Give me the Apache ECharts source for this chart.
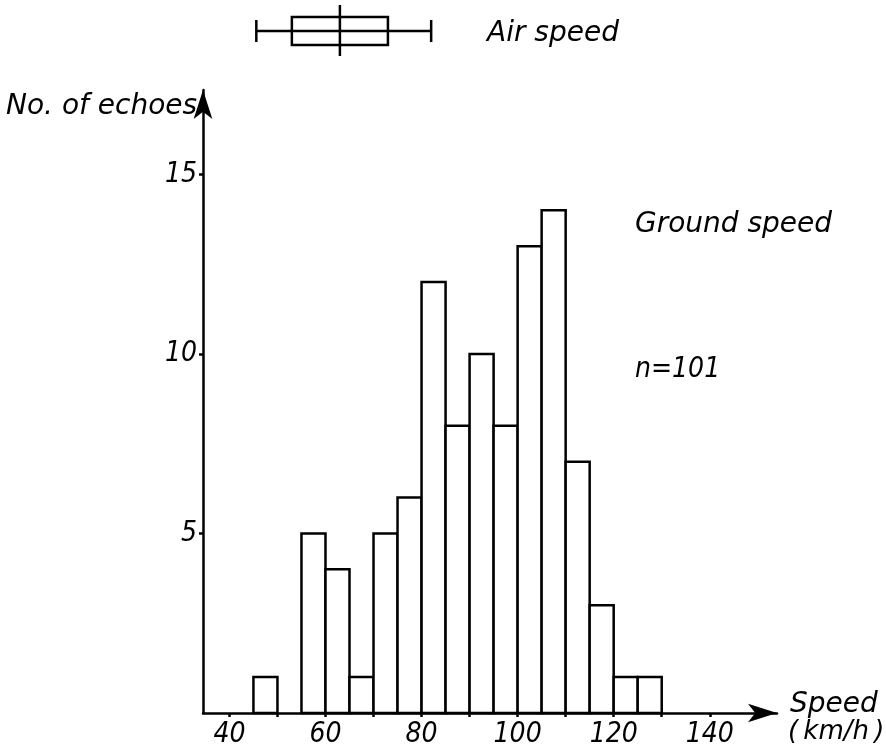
<!DOCTYPE html>
<html><head><meta charset="utf-8">
<script src="https://cdn.jsdelivr.net/npm/echarts@6/dist/echarts.min.js"></script>
<style>html,body{margin:0;padding:0;background:#fff}#c{width:886px;height:754px}</style>
</head><body><div id="c"></div>
<script>
// Histogram bins (km/h) and counts
const binStarts = [45, 50, 55, 60, 65, 70, 75, 80, 85, 90, 95, 100, 105, 110, 115, 120, 125];
const counts    = [1, 0, 5, 4, 1, 5, 6, 12, 8, 10, 8, 13, 14, 7, 3, 1, 1];
const binWidth = 5;
// Air speed box plot: min, q1, median, q3, max
const airSpeedBox = [45.6, 53, 63, 73, 82];
// Tick values
const xTickValues  = [40, 50, 60, 70, 80, 90, 100, 110, 120, 130, 140];
const xLabelValues = [40, 60, 80, 100, 120, 140];
const yLabelValues = [5, 10, 15];

const WORDFONT = "'DejaVu Sans', sans-serif";
const NUMFONT = "'Liberation Sans Narrow', 'DejaVu Sans Condensed', 'Liberation Sans', sans-serif";
const chart = echarts.init(document.getElementById('c'), null, {renderer: 'canvas'});

function txt(text, x, y, font, size) {
  return {type: 'text', x: x, y: y, style: {text: text, fill: '#000', fontSize: size || 28, fontStyle: 'italic',
    fontFamily: font || WORDFONT, verticalAlign: 'middle', align: 'left'}};
}

const LW = 2.5;
const axisLineStyle = {color: '#000', width: LW};
const option = {
  animation: false,
  backgroundColor: '#fff',
  grid: [
    {left: 203, top: 90, width: 574, height: 623},
    {left: 203, top: 5, width: 574, height: 52}
  ],
  xAxis: [
    {type: 'value', gridIndex: 0, min: 34.5, max: 154,
     axisLine: {show: true, onZero: false, lineStyle: axisLineStyle, symbol: ['none', 'arrow'], symbolSize: [14, 29]},
     axisTick: {show: true, customValues: xTickValues, length: 4, lineStyle: axisLineStyle},
     axisLabel: {show: true, customValues: xLabelValues, margin: 8, color: '#000', fontSize: 28, fontStyle: 'italic', fontFamily: NUMFONT},
     splitLine: {show: false}},
    {type: 'value', gridIndex: 1, min: 34.5, max: 154, show: false}
  ],
  yAxis: [
    {type: 'value', gridIndex: 0, min: 0, max: 17.35,
     axisLine: {show: true, onZero: false, lineStyle: axisLineStyle, symbol: ['none', 'arrow'], symbolSize: [14, 29]},
     axisTick: {show: true, customValues: yLabelValues, length: 4, lineStyle: axisLineStyle},
     axisLabel: {show: true, customValues: yLabelValues, margin: 6, color: '#000', fontSize: 28, fontStyle: 'italic', fontFamily: NUMFONT},
     splitLine: {show: false}},
    {type: 'value', gridIndex: 1, min: 0, max: 1, show: false}
  ],
  series: [
    {type: 'custom', xAxisIndex: 0, yAxisIndex: 0,
     data: binStarts.map((s, i) => [s, s + binWidth, counts[i]]),
     renderItem: function (params, api) {
       const x0 = api.value(0), x1 = api.value(1), c = api.value(2);
       if (!c) return null;
       const p0 = api.coord([x0, c]), p1 = api.coord([x1, 0]);
       return {type: 'rect', shape: {x: p0[0], y: p0[1], width: p1[0] - p0[0], height: p1[1] - p0[1]},
               style: {fill: '#fff', stroke: '#000', lineWidth: LW}};
     }},
    {type: 'custom', xAxisIndex: 1, yAxisIndex: 1,
     data: [airSpeedBox],
     renderItem: function (params, api) {
       const cy = api.coord([40, 0.5])[1];
       const px = i => api.coord([api.value(i), 0.5])[0];
       const mn = px(0), q1 = px(1), md = px(2), q3 = px(3), mx = px(4);
       const st = {stroke: '#000', lineWidth: LW, fill: null};
       return {type: 'group', children: [
         {type: 'line', shape: {x1: mn, y1: cy, x2: mx, y2: cy}, style: st},
         {type: 'line', shape: {x1: mn, y1: cy - 11, x2: mn, y2: cy + 11}, style: st},
         {type: 'line', shape: {x1: mx, y1: cy - 11, x2: mx, y2: cy + 11}, style: st},
         {type: 'rect', shape: {x: q1, y: cy - 14, width: q3 - q1, height: 28}, style: {fill: 'none', stroke: '#000', lineWidth: LW}},
         {type: 'line', shape: {x1: md, y1: cy - 26, x2: md, y2: cy + 25}, style: st}
       ]};
     }}
  ],
  graphic: [
    txt('Air speed', 487, 34),
    txt('No. of echoes', 6, 107),
    txt('Ground speed', 635, 225),
    txt('n=101', 635, 370, NUMFONT),
    txt('Speed', 790, 705),
    txt('(\u2009km/h\u2009)', 788, 732, WORDFONT, 26)
  ]
};
chart.setOption(option);
</script></body></html>
